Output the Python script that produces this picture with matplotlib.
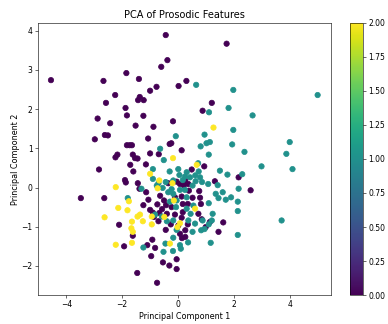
import matplotlib
matplotlib.use("Agg")
import matplotlib.pyplot as plt
import numpy as np

# class 0 (purple)
pc1_c0 = [-4.55, -0.44, 1.74, -0.38, -0.60, -1.85, -2.67, -1.40, 0.30, 0.02,
          -0.77, -2.25, -1.00, -1.37, -1.43, -1.23, -2.58, 1.21, -1.88, 0.88,
          -1.83, -1.24, -2.88, -0.18, -2.43, -1.52, -0.88, -2.62, -2.51, -2.98,
          -1.07, -0.30, -0.24, -1.83, -1.73, -1.65, 0.13, -1.62, -2.17, -2.24,
          -1.54, -1.45, -1.00, -2.83, -1.71, -1.15, -1.60, -1.90, -1.87, -1.44,
          -3.48, -2.64, -1.38, 0.94, 0.49, 2.17, 1.32, 2.60, 1.62, 1.45,
          -2.11, -1.93, -1.62, -1.10, -0.92, -0.82, -0.96, -0.54, -0.31, -0.05,
          -0.05, -1.46, -0.75, -0.69,
          0.07, -0.05, 0.21, -0.35, -0.64, -0.50, -0.43, -0.57, -0.74, -1.06,
          -1.24, -1.14, -0.67, -0.86, -0.90, -0.44, -0.26, 0.01, 0.07, 0.14,
          0.26, 0.26, 0.35, 0.17, 0.17, 0.52, 0.76, 0.79, 0.82, 0.73,
          0.35, 0.13, -0.11, -0.23, -0.11, -0.40, 0.13, 0.39, 0.37, 0.26,
          -1.00, 0.85, 0.99, 1.14, -0.70]
pc2_c0 = [2.74, 3.89, 3.67, 3.25, 3.08, 2.92, 2.72, 2.77, 2.72, 2.59,
          2.57, 2.36, 2.47, 2.31, 2.23, 2.23, 2.16, 2.16, 2.03, 1.96,
          1.84, 1.83, 1.76, 1.69, 1.64, 1.58, 1.55, 1.34, 1.33, 1.23,
          1.25, 1.11, 1.13, 1.08, 1.08, 1.08, 0.95, 0.84, 0.84, 0.77,
          0.75, 0.74, 0.87, 0.46, 0.58, 0.59, 0.41, 0.19, 0.13, 0.11,
          -0.27, -0.27, -0.03, 0.54, 0.46, 0.26, 0.16, -0.07, -0.89, -1.13,
          -0.95, -1.50, -1.23, -1.47, -1.33, -1.54, -1.75, -1.91, -1.99, -1.83,
          -2.08, -2.18, -2.43, 0.85,
          0.09, 0.15, 0.06, 0.11, -0.21, -0.33, -0.45, -0.55, -0.43, -0.31,
          -0.45, -0.12, -0.65, -0.75, -0.64, -1.08, -0.94, -0.97, -1.18, -1.29,
          -1.26, -1.09, -0.94, -0.42, -0.63, -0.26, -0.09, -0.26, -0.42, -0.67,
          -0.42, -0.23, -0.25, -0.50, -0.69, -0.67, -0.77, -0.08, 0.09, 0.18,
          -0.57, -0.81, -1.01, -0.88, -0.86]

# class 1 (teal)
pc1_c1 = [5.00, 0.65, 1.98, 1.11, 1.81, 2.67, 1.98, 0.95, -0.08, 4.00,
          1.14, 1.02, 1.94, 0.81, -0.64, 2.38, 3.88, 1.10, -0.51, 2.99,
          4.10, -0.90, -0.30, 0.01, 0.74, 1.50, 1.77, 2.30, 0.31, 0.43,
          0.62, 0.25, 0.17, 0.86, 1.08, 1.42, 2.17, 1.60, 1.35, 1.45,
          1.71, 1.90, 2.14, 1.10, 2.14, 3.71, 2.14, 1.17, 1.10, 1.21,
          0.95, 0.83, 0.52, 0.36, 0.10, 0.07, -0.18, -0.52, -0.45, -1.24,
          -1.80, -1.31, -0.76, -0.70, -0.90, -0.55, -0.17, -0.29, -0.05, -0.07,
          0.31, 0.55, 0.45, 0.31, 0.25, 0.52, 0.63, 0.07, -0.23, -0.35,
          -0.58, -0.82, -0.40, -0.17, -0.05, -0.17, 0.37, 0.61, -0.17, 0.05,
          0.79, -0.44, 0.88, 1.24, 0.72]
pc2_c1 = [2.36, 2.62, 2.49, 1.92, 2.03, 1.84, 1.47, 1.35, 1.31, 1.16,
          1.16, 1.13, 1.10, 1.05, 0.99, 0.91, 0.86, 0.84, 0.70, 0.54,
          0.47, 0.47, 0.41, 0.47, 0.41, 0.43, 0.33, 0.34, 0.39, 0.26,
          0.31, 0.28, 0.19, 0.14, 0.09, 0.06, -0.03, -0.12, -0.16, -0.27,
          -0.31, -0.25, -0.36, -0.40, -0.60, -0.84, -1.21, -1.41, -0.94, -0.84,
          -1.06, -1.09, -1.13, -1.40, -1.56, -1.47, -1.62, -1.64, -1.43, -1.53,
          -0.27, -0.03, 0.05, 0.11, 0.22, -0.01, -0.16, -0.36, -0.33, -0.50,
          -0.54, -0.46, -0.67, -0.25, -0.06, 0.05, 0.16, -0.06, -0.04, -0.12,
          -0.74, -0.69, -0.86, -0.84, -1.08, -1.28, -0.84, -0.92, 0.18, 0.32,
          0.26, 0.14, -0.84, -0.67, 0.62]

# class 2 (yellow)
pc1_c2 = [1.27, -0.18, 0.67, -1.00, -0.67, -0.20, -2.23, -0.73, -1.76, -0.15,
          -2.14, 0.61, -1.81, -1.45, -1.36, -0.94, -2.63, -1.65, -1.26, -0.94,
          -1.67, 0.07, -0.02, -1.62, -0.49, -2.23, -1.65, -0.29]
pc2_c2 = [1.53, 0.75, 0.58, 0.35, 0.18, 0.11, 0.01, -0.02, -0.35, -0.33,
          -0.52, -0.54, -0.58, -0.74, -0.69, -0.74, -0.76, -0.87, -0.86, -0.94,
          -1.04, -0.91, -1.01, -1.13, -0.75, -1.46, -1.41, -1.43]

pc1 = np.array(pc1_c0 + pc1_c1 + pc1_c2)
pc2 = np.array(pc2_c0 + pc2_c1 + pc2_c2)
labels = np.array([0] * len(pc1_c0) + [1] * len(pc1_c1) + [2] * len(pc1_c2))

plt.rcParams['xtick.labelsize'] = 10.5
plt.rcParams['ytick.labelsize'] = 10.5

fig = plt.figure(figsize=(388 / 52, 324 / 52), dpi=52)
ax = fig.add_axes([0.097, 0.089, 0.756, 0.841])
cax = fig.add_axes([0.902, 0.089, 0.034, 0.841])

sc = ax.scatter(pc1, pc2, c=labels, cmap='viridis', s=55)
ax.set_title("PCA of Prosodic Features", fontsize=13.5)
ax.set_xlabel("Principal Component 1", fontsize=11)
ax.set_ylabel("Principal Component 2", fontsize=11, labelpad=2)
fig.colorbar(sc, cax=cax)

fig.savefig("out.png", dpi=52)
